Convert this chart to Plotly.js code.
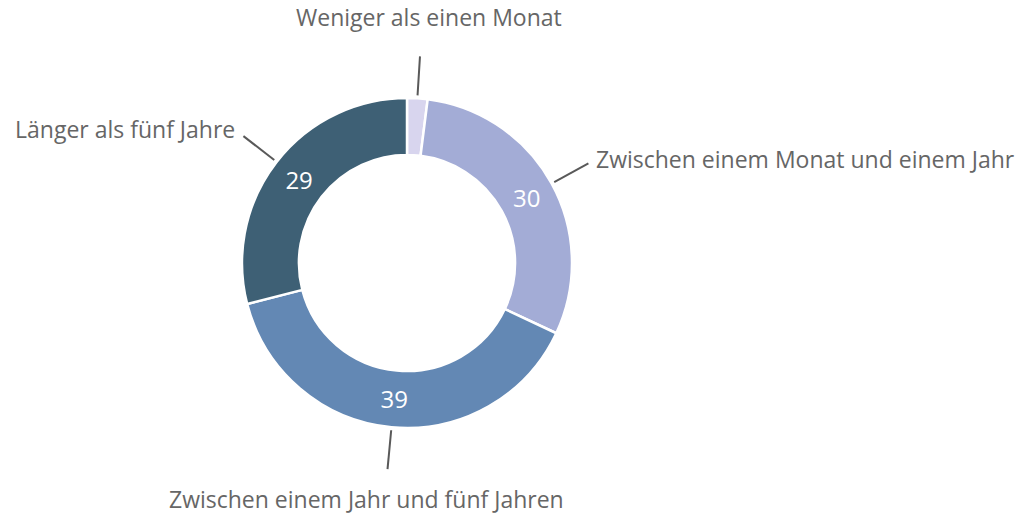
<!DOCTYPE html>
<html>
<head>
<meta charset="utf-8">
<script src="https://cdn.plot.ly/plotly-3.0.1.min.js"></script>
<style>html,body{margin:0;padding:0;background:#fff}#chart{width:1023px;height:515px}</style>
</head>
<body>
<div id="chart"></div>
<script>
const labels = ["Weniger als einen Monat", "Zwischen einem Monat und einem Jahr", "Zwischen einem Jahr und fünf Jahren", "Länger als fünf Jahre"];
const values = [2, 30, 39, 29];
const colors = ["#d8d5ee", "#a3acd6", "#6388b4", "#3e6075"];

const W = 1023, H = 515;
const cx = 407, cy = 263, R = 165;
const dom = {x: [(cx - R) / W, (cx + R) / W], y: [1 - (cy + R) / H, 1 - (cy - R) / H]};

const total = values.reduce((a, b) => a + b, 0);
const shapes = [], annotations = [];
const FONT = "Open Sans, sans-serif";
let cum = 0;
values.forEach((v, i) => {
  const mid = (cum + v / 2) / total * 2 * Math.PI;
  cum += v;
  const s = Math.sin(mid), c = Math.cos(mid);
  const r1 = R + 3, r2 = R + 42;
  const x1 = cx + r1 * s, y1 = cy - r1 * c, x2 = cx + r2 * s, y2 = cy - r2 * c;
  shapes.push({type: "line", xref: "paper", yref: "paper",
    x0: x1 / W, y0: 1 - y1 / H, x1: x2 / W, y1: 1 - y2 / H,
    line: {color: "#595959", width: 2}});
  let ax, ay, xa;
  if (Math.abs(c) > 0.8) {
    ax = x2 + (c > 0 ? 9 : -21); ay = c > 0 ? y2 - 39 : y2 + 30; xa = "center";
  } else {
    ax = s > 0 ? x2 + 6 : x2 - 6; ay = y2 + (s > 0 ? -4 : -7); xa = s > 0 ? "left" : "right";
  }
  annotations.push({text: labels[i], xref: "paper", yref: "paper", x: ax / W, y: 1 - ay / H,
    xanchor: xa, yanchor: "middle", showarrow: false,
    font: {family: FONT, size: 23, color: "#666666"}});
});

const trace = {
  type: "pie", labels: labels, values: values, sort: false, direction: "clockwise", rotation: 0,
  hole: 0.655, domain: dom,
  marker: {colors: colors, line: {color: "#ffffff", width: 2.5}},
  text: values.map(v => v >= 5 ? String(v) : ""), textinfo: "text",
  textposition: "inside", insidetextorientation: "horizontal",
  insidetextfont: {family: FONT, size: 24, color: "#ffffff"},
  showlegend: false, hoverinfo: "label+value"
};

Plotly.newPlot("chart", [trace], {
  width: W, height: H, margin: {l: 0, r: 0, t: 0, b: 0},
  paper_bgcolor: "#ffffff", plot_bgcolor: "#ffffff",
  showlegend: false, shapes: shapes, annotations: annotations
}, {displayModeBar: false, staticPlot: true});
</script>
</body>
</html>
